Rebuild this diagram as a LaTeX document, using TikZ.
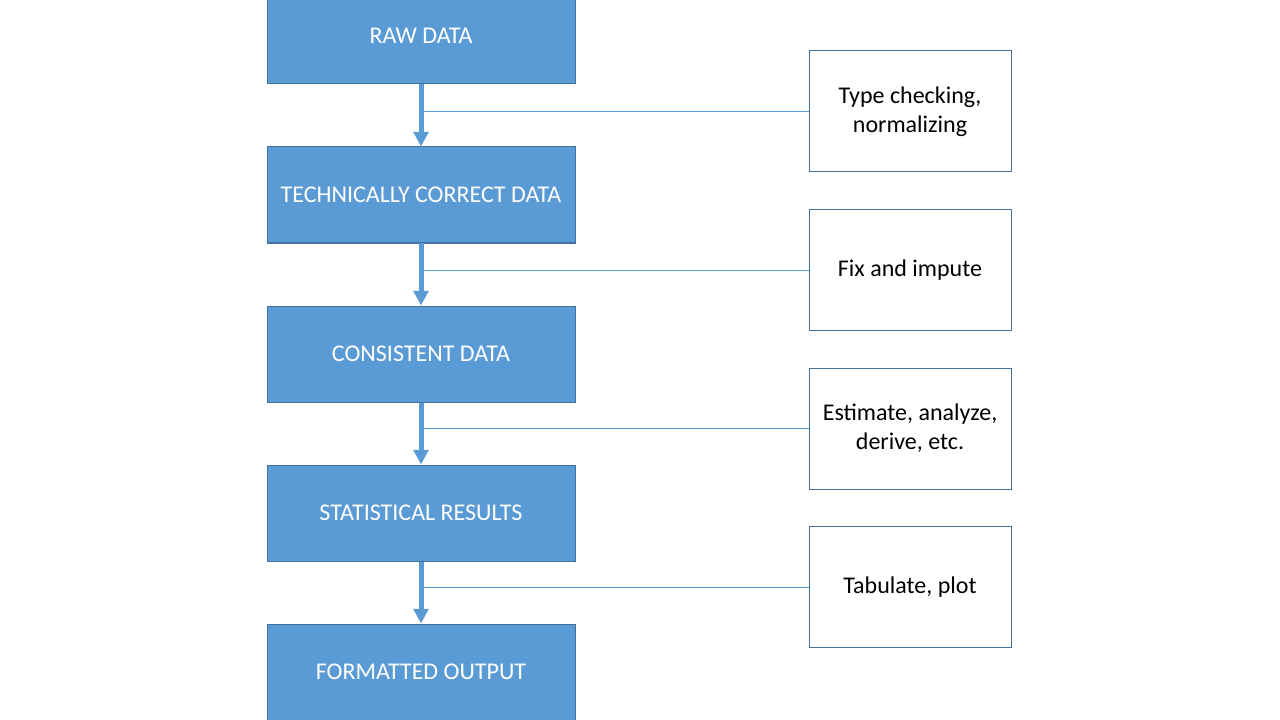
\documentclass[tikz,border=0pt]{standalone}
\usepackage{fontspec}
\setmainfont{Carlito}
\usetikzlibrary{positioning,arrows.meta}
\definecolor{boxblue}{HTML}{5B9BD5}
\definecolor{edgeblue}{HTML}{41719C}
\begin{document}
\begin{tikzpicture}[x=0.75pt,y=-0.75pt,
    blk/.style={fill=boxblue,draw=edgeblue,line width=0.75pt,minimum width=231pt,minimum height=72pt,text=white,font=\fontsize{18}{22}\selectfont,inner sep=0pt},
    side/.style={fill=white,draw=edgeblue,line width=0.75pt,minimum width=151.5pt,minimum height=90.75pt,align=center,font=\fontsize{18}{21.75}\selectfont,inner sep=0pt},
    flow/.style={draw=boxblue,line width=3.75pt,-{Triangle[length=11pt,width=11pt]}},
    link/.style={draw=boxblue,line width=0.75pt}]
     \useasboundingbox (0,0) rectangle (1280,720);
     \clip (0,0) rectangle (1280,720);
     \node[blk] (d1) at (421,36) {RAW DATA};
     \node[blk] (d2) at (421,195) {TECHNICALLY CORRECT DATA};
     \node[blk] (d3) at (421,354) {CONSISTENT DATA};
     \node[blk] (d4) at (421,513) {STATISTICAL RESULTS};
     \node[blk] (d5) at (421,672) {FORMATTED OUTPUT};

     \node[side] (t1) at (910,111.5) {Type checking,\\normalizing};
     \node[side] (t2) at (910,270) {Fix and impute};
     \node[side] (t3) at (910,428.5) {Estimate, analyze,\\derive, etc.};
     \node[side] (t4) at (910,587) {Tabulate, plot};

     \draw[link] (t1.west) -- (t1.west -| d1.south);
     \draw[link] (t2.west) -- (t2.west -| d2.south);
     \draw[link] (t3.west) -- (t3.west -| d3.south);
     \draw[link] (t4.west) -- (t4.west -| d4.south);
     \draw[flow] (d1) -- (d2);
     \draw[flow] (d2) -- (d3);
     \draw[flow] (d3) -- (d4);
     \draw[flow] (d4) -- (d5);
    \end{tikzpicture}
\end{document}
